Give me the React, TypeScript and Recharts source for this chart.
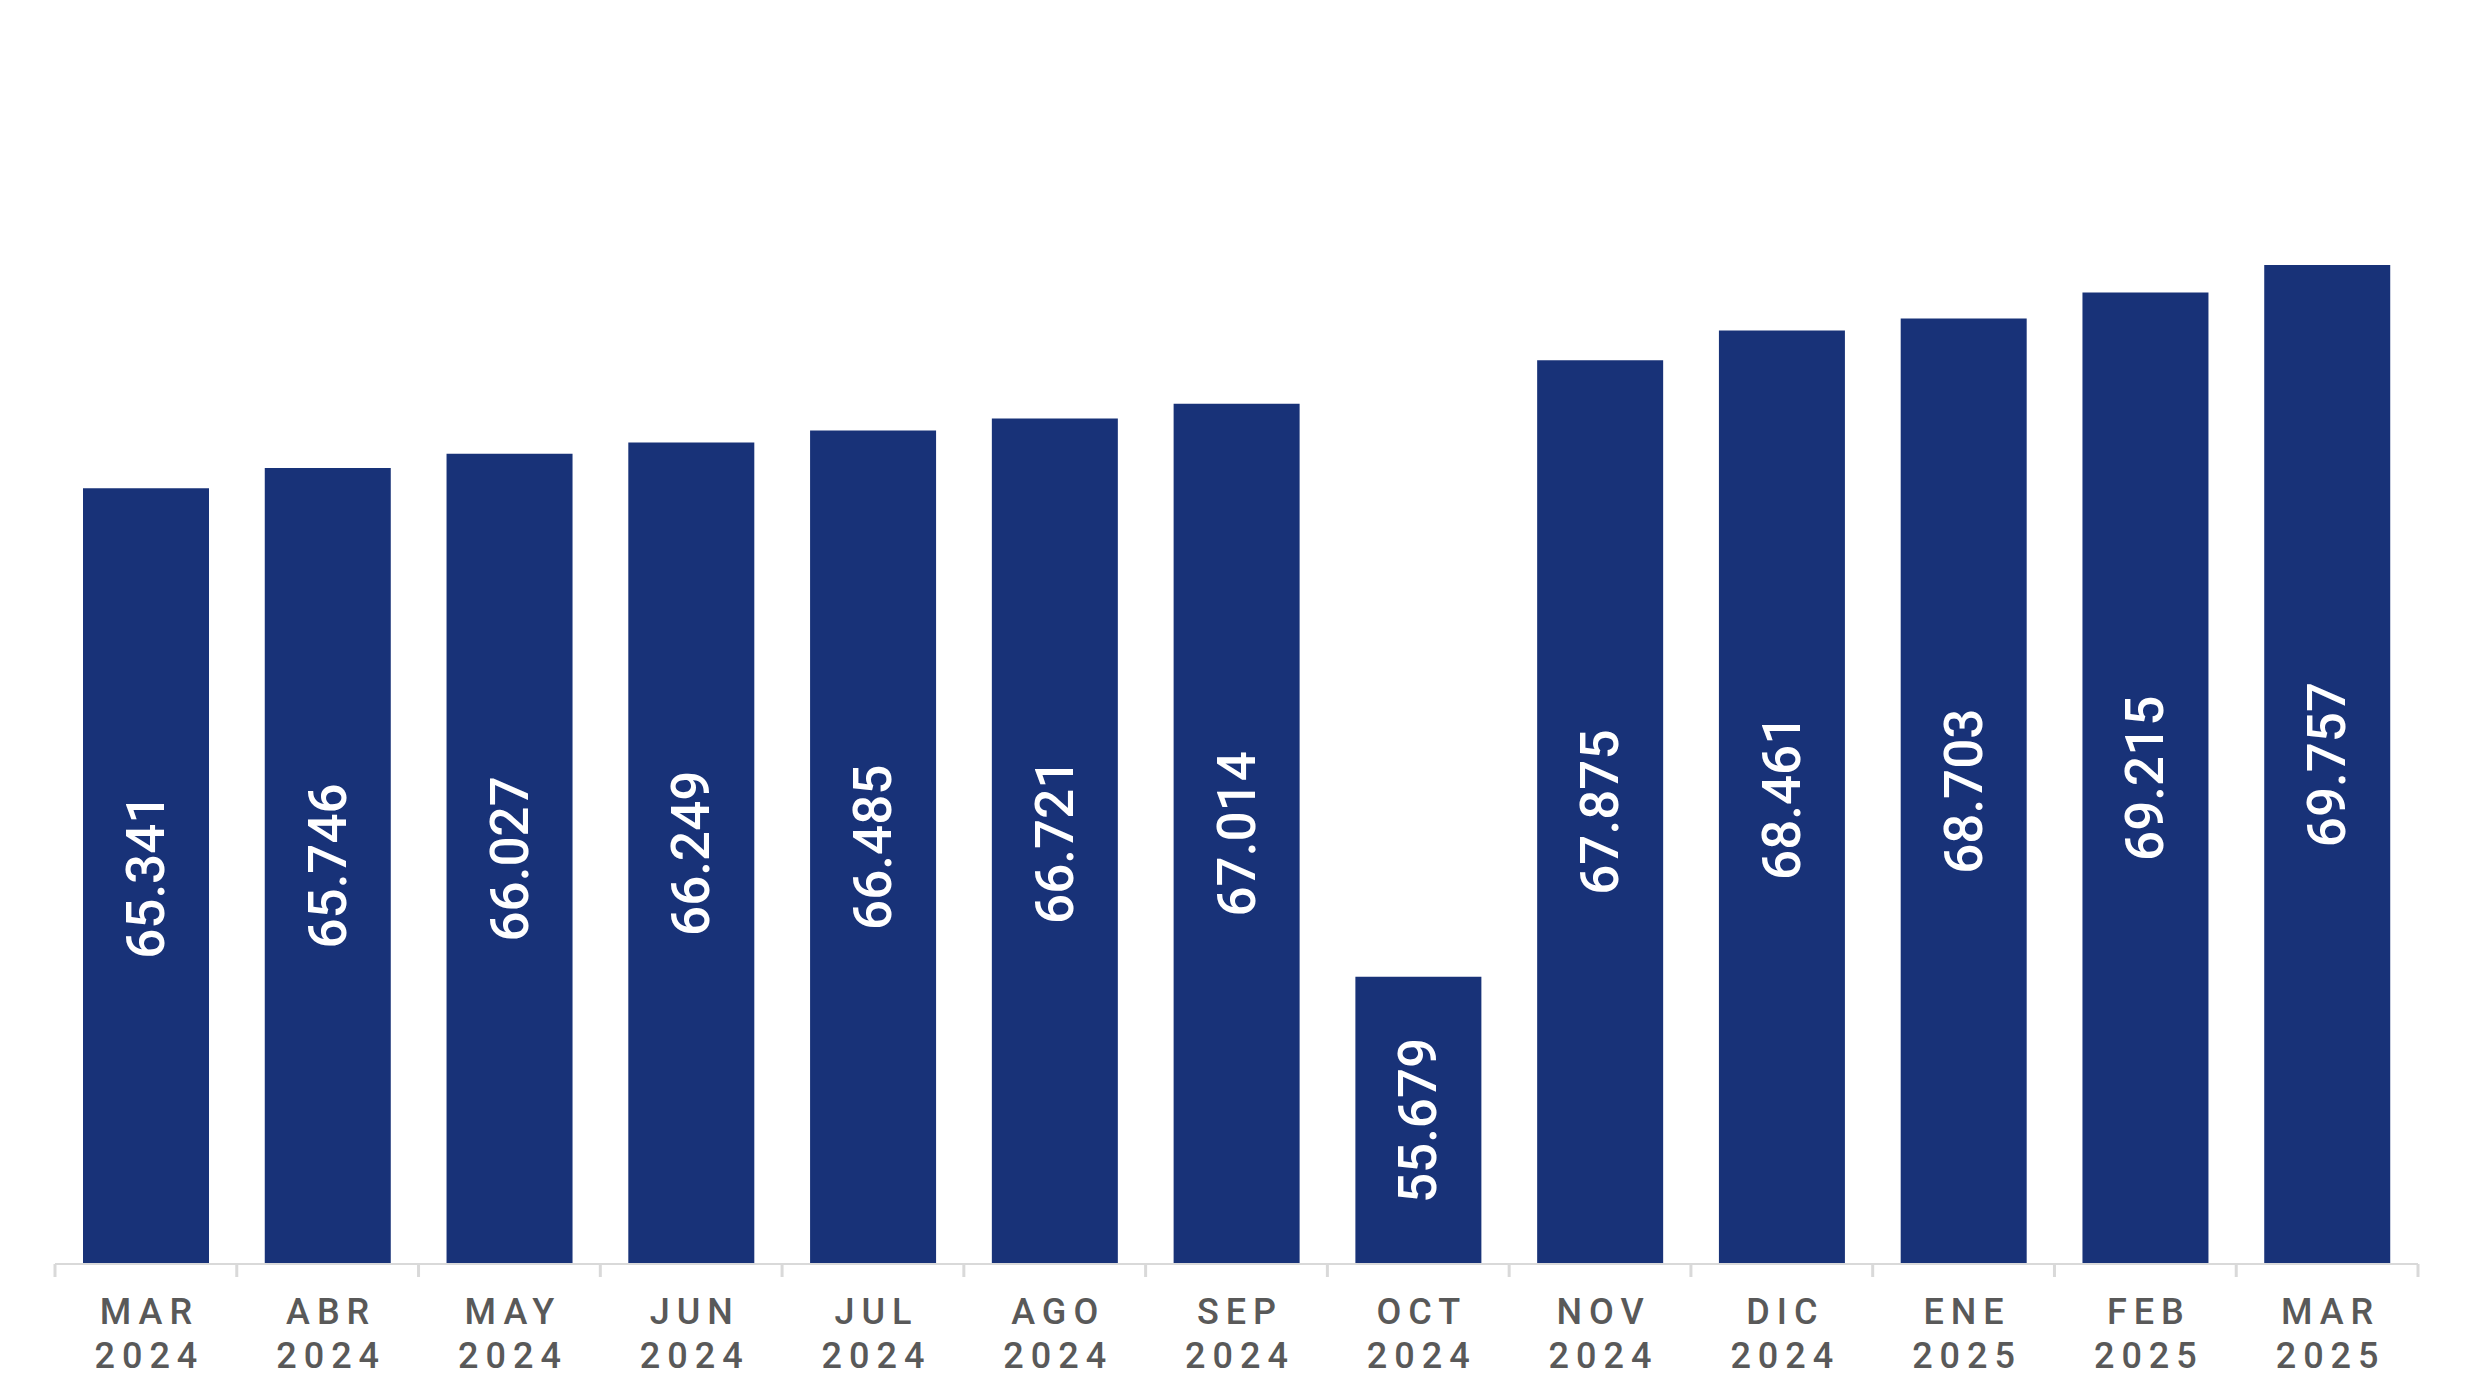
import React from "react";
import { BarChart, Bar, XAxis, YAxis, LabelList } from "recharts";

const months = ["MAR", "ABR", "MAY", "JUN", "JUL", "AGO", "SEP", "OCT", "NOV", "DIC", "ENE", "FEB", "MAR"];
const years = ["2024", "2024", "2024", "2024", "2024", "2024", "2024", "2024", "2024", "2024", "2025", "2025", "2025"];
const values = [65.341, 65.746, 66.027, 66.249, 66.485, 66.721, 67.014, 55.679, 67.875, 68.461, 68.703, 69.215, 69.757];

const data = values.map((v, i) => ({ key: i, month: months[i], year: years[i], value: v }));

const BAR_COLOR = "#183278";
const AXIS_COLOR = "#d9d9d9";
const TICK_TEXT = "#595959";
const FONT = "Roboto, 'Noto Sans', sans-serif";

const CustomTick = (props: any) => {
  const { x, y, payload } = props;
  const i = payload.value as number;
  const ls = 7;
  return (
    <text
      x={x}
      y={y}
      textAnchor="middle"
      fill={TICK_TEXT}
      fontFamily={FONT}
      fontSize={36}
      fontWeight={500}
      letterSpacing={ls}
    >
      <tspan x={x + ls / 2} dy={52}>{months[i]}</tspan>
      <tspan x={x + ls / 2} dy={44}>{years[i]}</tspan>
    </text>
  );
};

const BarLabel = (props: any) => {
  const { x, y, width, height, value } = props;
  const cx = Number(x) + Number(width) / 2;
  const cy = Number(y) + Number(height) / 2;
  return (
    <text
      x={cx}
      y={cy}
      transform={`rotate(-90, ${cx}, ${cy})`}
      textAnchor="middle"
      dominantBaseline="central"
      fill="#ffffff"
      fontFamily={FONT}
      fontSize={53}
      fontWeight={500}
    >
      {Number(value).toFixed(3)}
    </text>
  );
};

export default function App() {
  return (
    <div style={{ position: "absolute", left: 0, top: 0, width: 2466, height: 1388, background: "#ffffff" }}>
      <BarChart
        width={2466}
        height={1388}
        data={data}
        margin={{ top: 0, right: 48, bottom: 0, left: 55 }}
      >
        <XAxis
          dataKey="key"
          height={124}
          axisLine={{ stroke: AXIS_COLOR, strokeWidth: 2 }}
          tickLine={false}
          tick={<CustomTick />}
          interval={0}
        />
        <YAxis hide domain={[50, 75]} allowDataOverflow />
        <Bar dataKey="value" fill={BAR_COLOR} barSize={126} isAnimationActive={false}>
          <LabelList dataKey="value" content={<BarLabel />} />
        </Bar>
      </BarChart>
      <svg
        width={2466}
        height={1388}
        style={{ position: "absolute", left: 0, top: 0, pointerEvents: "none" }}
      >
        {Array.from({ length: months.length + 1 }).map((_, i) => {
          const x = 55 + (i * (2418 - 55)) / months.length;
          return <line key={i} x1={x} x2={x} y1={1264} y2={1277} stroke={AXIS_COLOR} strokeWidth={3} />;
        })}
      </svg>
    </div>
  );
}
